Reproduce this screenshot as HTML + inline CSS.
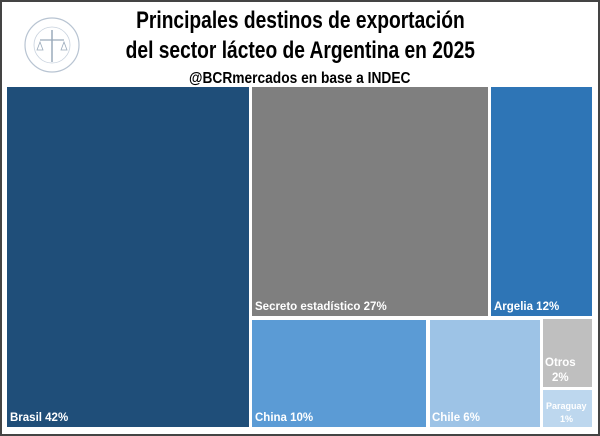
<!DOCTYPE html>
<html><head><meta charset="utf-8"><style>
body{margin:0;width:600px;height:436px;overflow:hidden;background:#fff;font-family:"Liberation Sans",sans-serif}
#f{position:absolute;left:0;top:0;width:596px;height:432px;border:2px solid #444;}
.t{position:absolute;left:0;width:600px;text-align:center;font-weight:bold;color:#000;white-space:nowrap}
.t span{display:inline-block;transform:scaleX(0.8)}
.r{position:absolute;box-sizing:border-box}
.l{position:absolute;color:#fff;font-weight:bold;font-size:11.5px;white-space:nowrap}
</style></head><body>
<div id="f"></div>
<div class="t" style="top:7px;font-size:24px;line-height:28px"><span>Principales destinos de exportación</span></div>
<div class="t" style="top:37px;font-size:24px;line-height:28px"><span>del sector lácteo de Argentina en 2025</span></div>
<div class="t" style="top:70px;font-size:16px;line-height:18px"><span style="transform:scaleX(0.86)">@BCRmercados en base a INDEC</span></div>
<svg style="position:absolute;left:23px;top:16px" width="58" height="58">
<circle cx="29" cy="29" r="27" fill="none" stroke="#b8c4d2" stroke-width="1.2"/>
<circle cx="29" cy="29" r="18" fill="none" stroke="#c8d2de" stroke-width="0.8"/>
<line x1="29" y1="14" x2="29" y2="46" stroke="#9aaabb" stroke-width="1.5"/>
<line x1="17" y1="24" x2="41" y2="24" stroke="#9aaabb" stroke-width="1.2"/>
<path d="M14 34 l3 -8 l3 8 z M38 34 l3 -8 l3 8z" fill="none" stroke="#9aaabb" stroke-width="0.8"/>
</svg>
<div class="r" style="left:7px;top:87px;width:242px;height:340px;background:#1f4e79"></div>
<div class="r" style="left:252px;top:87px;width:236px;height:229px;background:#7f7f7f"></div>
<div class="r" style="left:491px;top:87px;width:101px;height:229px;background:#2e75b6"></div>
<div class="r" style="left:252px;top:320px;width:174px;height:107px;background:#5b9bd5"></div>
<div class="r" style="left:430px;top:320px;width:110px;height:107px;background:#9dc3e6"></div>
<div class="r" style="left:543px;top:319px;width:49px;height:68px;background:#bfbfbf"></div>
<div class="r" style="left:543px;top:390px;width:49px;height:37px;background:#bdd7ee"></div>
<div class="l" style="left:10px;top:412px">Brasil 42%</div>
<div class="l" style="left:255px;top:301px">Secreto estadístico 27%</div>
<div class="l" style="left:494px;top:301px">Argelia 12%</div>
<div class="l" style="left:255px;top:412px">China 10%</div>
<div class="l" style="left:432px;top:412px">Chile 6%</div>
<div class="l" style="left:545px;top:357px">Otros</div>
<div class="l" style="left:552px;top:372px">2%</div>
<div class="l" style="left:546px;top:401px;font-size:9px">Paraguay</div>
<div class="l" style="left:560px;top:414px;font-size:9px">1%</div>
</body></html>
